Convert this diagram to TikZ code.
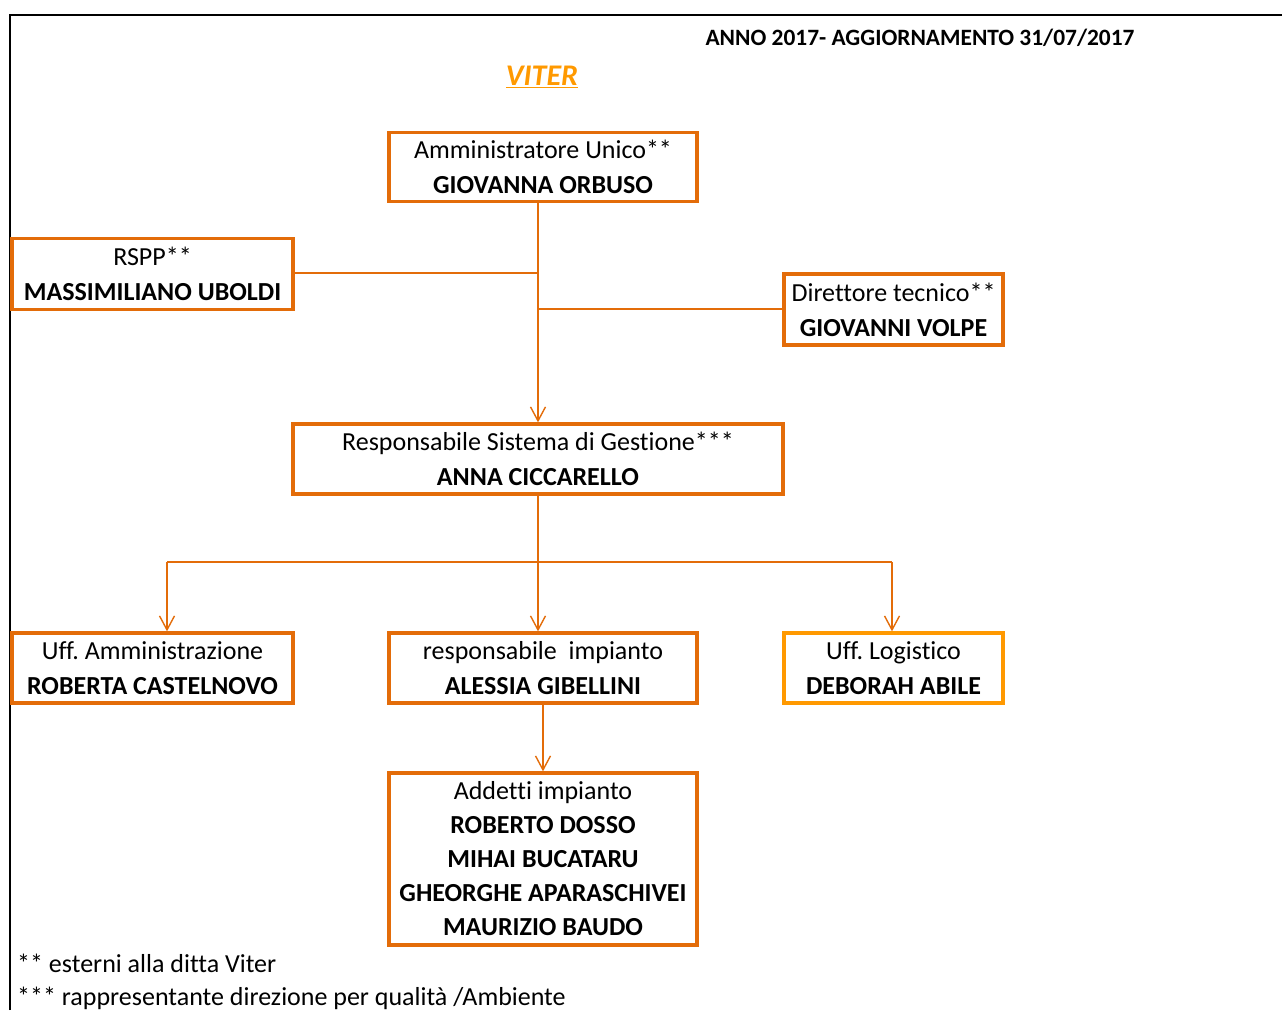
\documentclass[tikz,border=0pt]{standalone}
\usepackage{fontspec}
\setmainfont[Ligatures=NoCommon]{Carlito}
\usepackage{tikz}
\usetikzlibrary{arrows.meta}
\frenchspacing
\definecolor{boxorange}{HTML}{E36C09}
\definecolor{lightorange}{HTML}{FF9900}
\tikzset{box/.style={rectangle,draw=boxorange,line width=3.3pt,align=center,inner sep=0pt,font=\fontsize{26}{35}\selectfont},
  conn/.style={draw=boxorange,line width=1.4pt},
  arr/.style={conn,-{Straight Barb[length=14pt,width=15pt]}}}

\begin{document}
\begin{tikzpicture}[x=1pt,y=-1pt]
\useasboundingbox (0,0) rectangle (1282,1010);
\draw[line width=2pt] (10,1010) -- (10,15) -- (1282,15);
\node[font=\fontsize{23.4}{28}\selectfont\bfseries] (anno) at (920,38){ANNO 2017- AGGIORNAMENTO 31/07/2017};
\node[font=\fontsize{30}{36}\selectfont\bfseries\itshape,text=lightorange] (viter) at (542,77){\underline{VITER}};
\node[box,minimum width=308pt,minimum height=68.5pt] (1) at (543,167){Amministratore Unico**\\\textbf{GIOVANNA ORBUSO}};
\node[box,minimum width=281pt,minimum height=71pt] (2) at (152.5,274){RSPP**\\\textbf{MASSIMILIANO UBOLDI}};
\node[box,minimum width=219pt,minimum height=71pt] (3) at (893.5,309.5){Direttore tecnico**\\\textbf{GIOVANNI VOLPE}};
\node[box,minimum width=490pt,minimum height=70pt] (4) at (538,459){Responsabile Sistema di Gestione***\\\textbf{ANNA CICCARELLO}};
\node[box,minimum width=281pt,minimum height=70pt] (6) at (152.5,668){Uff. Amministrazione\\\textbf{ROBERTA CASTELNOVO}};
\node[box,minimum width=308pt,minimum height=70pt] (5) at (543,668){responsabile\ \ impianto\\\textbf{ALESSIA GIBELLINI}};
\node[box,draw=lightorange,minimum width=219pt,minimum height=70pt] (7) at (893.5,668){Uff. Logistico\\\textbf{DEBORAH ABILE}};
\node[box,minimum width=308pt,minimum height=172pt,font=\fontsize{26}{34}\selectfont] (8) at (543,859){Addetti impianto\\\textbf{ROBERTO DOSSO}\\\textbf{MIHAI BUCATARU}\\\textbf{GHEORGHE APARASCHIVEI}\\\textbf{MAURIZIO BAUDO}};
\node[anchor=base west,inner sep=0pt,font=\fontsize{26}{30}\selectfont] (nota1) at (17,972){** esterni alla ditta Viter};
\node[anchor=base west,inner sep=0pt,font=\fontsize{26}{30}\selectfont] (nota2) at (17,1005){*** rappresentante direzione per qualità /Ambiente};
\coordinate (a) at (538,273);
\coordinate (b) at (538,309);
\coordinate (c) at (167,562);
\coordinate (d) at (892,562);
\draw[conn] (2.east |- a) -- (a);
\draw[conn] (b) -- (3.west |- b);
\draw[arr] (4.north |- 1.south) -- (4.north);
\draw[arr] (4.south) -- (4.south |- 5.north);
\draw[conn] (c) -- (d);
\foreach \from/\to in {c/6,d/7}
  \draw[arr] (\from) -- (\from |- \to.north);
\draw[arr] (5.south) -- (8.north);
\end{tikzpicture}
\end{document}
